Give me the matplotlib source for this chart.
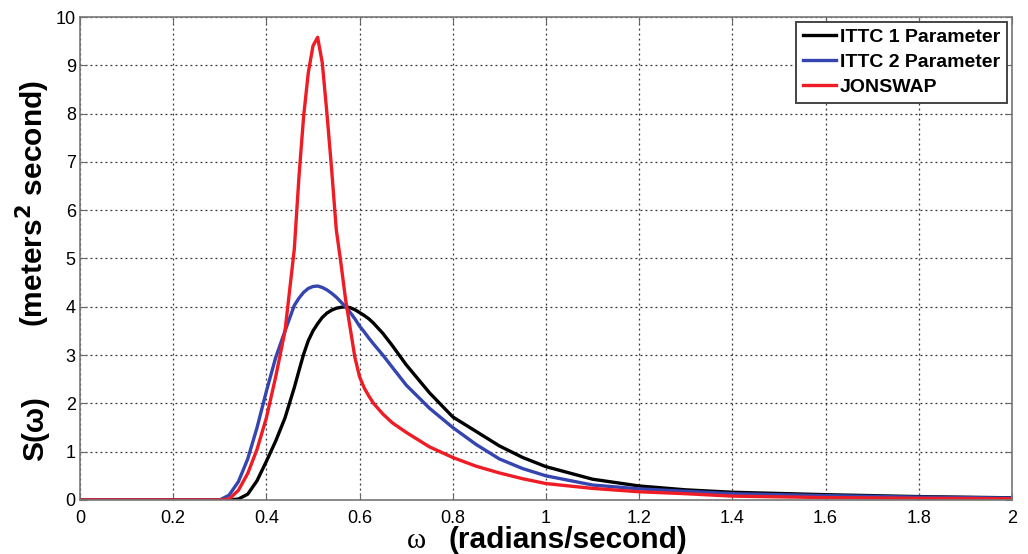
import matplotlib
matplotlib.use("Agg")
import matplotlib.pyplot as plt

# wave frequency (rad/s) and spectral densities
omega = [0.00, 0.20, 0.30, 0.32, 0.34, 0.36, 0.38, 0.40, 0.42, 0.44,
         0.46, 0.47, 0.48, 0.49, 0.50, 0.51, 0.52, 0.53, 0.54, 0.55,
         0.56, 0.57, 0.58, 0.59, 0.60, 0.61, 0.62, 0.63, 0.65, 0.67,
         0.70, 0.75, 0.80, 0.85, 0.90, 0.95, 1.00, 1.10, 1.20, 1.30,
         1.40, 1.60, 1.80, 2.00]

ittc1 = [0, 0, 0, 0, 0.02, 0.12, 0.40, 0.80, 1.22, 1.70,
         2.33, 2.68, 3.02, 3.30, 3.50, 3.65, 3.78, 3.87, 3.93, 3.97,
         3.99, 4.00, 3.98, 3.94, 3.88, 3.82, 3.75, 3.66, 3.45, 3.20,
         2.80, 2.22, 1.72, 1.42, 1.12, 0.88, 0.69, 0.43, 0.29, 0.21,
         0.16, 0.11, 0.07, 0.045]

ittc2 = [0, 0, 0, 0.10, 0.38, 0.85, 1.50, 2.25, 2.95, 3.50,
         4.03, 4.18, 4.30, 4.38, 4.42, 4.43, 4.40, 4.35, 4.28, 4.20,
         4.10, 4.00, 3.88, 3.75, 3.60, 3.48, 3.35, 3.23, 3.00, 2.75,
         2.38, 1.90, 1.50, 1.15, 0.85, 0.65, 0.50, 0.31, 0.23, 0.18,
         0.13, 0.09, 0.06, 0.04]

jonswap = [0, 0, 0, 0.02, 0.20, 0.55, 1.05, 1.70, 2.55, 3.50,
           5.20, 6.70, 7.95, 8.85, 9.40, 9.58, 9.05, 8.00, 6.85, 5.60,
           4.90, 4.15, 3.55, 2.95, 2.55, 2.32, 2.15, 2.00, 1.78, 1.60,
           1.40, 1.10, 0.88, 0.70, 0.56, 0.44, 0.34, 0.24, 0.17, 0.13,
           0.08, 0.05, 0.035, 0.025]

labels = ["ITTC 1 Parameter", "ITTC 2 Parameter", "JONSWAP"]
colors = ["black", "#3545b0", "#ee1c25"]

plt.rcParams['font.family'] = ['Liberation Sans', 'DejaVu Sans']

fig = plt.figure(figsize=(10.28, 5.54), dpi=100)
ax = fig.add_axes([0.0778, 0.0975, 0.9066, 0.8718])

for s, lab, c in zip([ittc1, ittc2, jonswap], labels, colors):
    ax.plot(omega, s, color=c, lw=2.4, label=lab)

ax.set_xlim(0, 2)
ax.set_ylim(0, 10)
ax.set_xticks([0, 0.2, 0.4, 0.6, 0.8, 1, 1.2, 1.4, 1.6, 1.8, 2])
ax.set_xticklabels(["0", "0.2", "0.4", "0.6", "0.8", "1", "1.2", "1.4", "1.6", "1.8", "2"])
ax.set_yticks(range(0, 11))

# MATLAB-like look: dotted grid, inward ticks on all sides, grey box
ax.grid(True, linestyle=(0, (1.5, 2.5)), color='#333333', linewidth=0.9)
ax.tick_params(direction='in', top=True, right=True, length=5,
               labelsize=13, color='#666666')
ax.tick_params(axis='x', pad=7)
ax.tick_params(axis='y', pad=3)
for sp in ax.spines.values():
    sp.set_color('#777777')
    sp.set_linewidth(1.2)

# axis labels, placed by hand like the MATLAB export
fig.text(0.405, 0.024, "ω", fontsize=21, family='Liberation Serif',
         ha='center', va='center')
fig.text(0.552, 0.025, "(radians/second)", fontsize=21.5, fontweight='bold',
         ha='center', va='center')
fig.text(0.034, 0.226, "S(ω)", fontsize=21.5, fontweight='bold',
         rotation=90, ha='center', va='center')
fig.text(0.032, 0.632, "(meters$^\\mathbf{2}$ second)", fontsize=21.5,
         fontweight='bold', rotation=90, ha='center', va='center')

leg = ax.legend(loc='upper right', prop={'weight': 'bold', 'size': 14},
                fancybox=False, framealpha=1, edgecolor='#444444',
                handlelength=1.7, handletextpad=0.2, borderpad=0.35,
                labelspacing=0.38, borderaxespad=0.25)
leg.get_frame().set_linewidth(1.4)

fig.savefig("out.png", dpi=100)
